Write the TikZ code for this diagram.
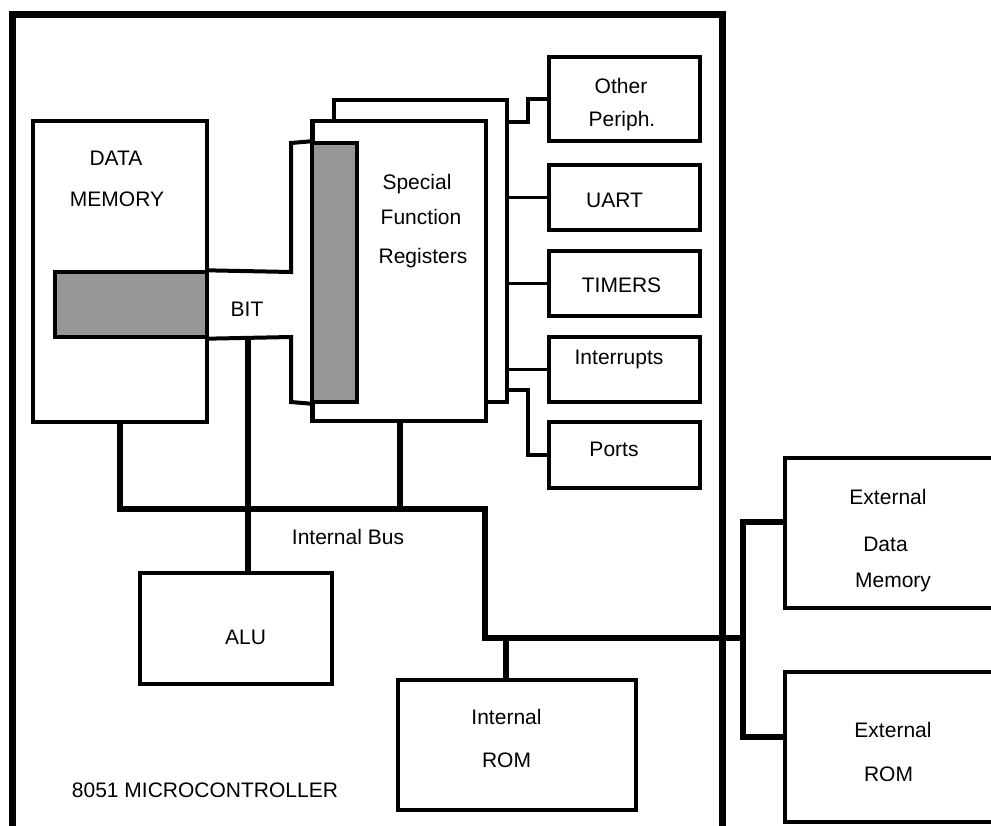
\documentclass[tikz,border=0pt]{standalone}
\usepackage{fontspec}
\setmainfont{Liberation Sans}
\definecolor{bitgray}{RGB}{150,150,150}

\begin{document}
\begin{tikzpicture}[x=1pt, y=-1pt,
    box/.style={draw, line width=3.3pt, fill=white, inner sep=0pt},
    graybox/.style={draw, line width=3.3pt, fill=bitgray, inner sep=0pt},
    txt/.style={inner sep=0pt, text height=15pt, text depth=0pt, font=\fontsize{21}{25}\selectfont},
    wire/.style={line width=3.4pt},
    bus/.style={line width=6pt}]
    \useasboundingbox (0,0) rectangle (991,825);

    % Microcontroller
    \node[draw, line width=7pt, minimum width=710pt, minimum height=836pt] (mcu) at (367,432) {};
    \node[txt] (mcutxt) at (205,790) {8051 MICROCONTROLLER};

    % Data memory
    \node[box, minimum width=174pt, minimum height=301pt] (dm) at (120,271.5) {};
    \node[graybox, minimum width=152pt, minimum height=65pt] (dmbit) at (131,304.5) {};
    \node[txt] (dmtxt1) at (116,157.5) {DATA};
    \node[txt] (dmtxt2) at (117,198.5) {MEMORY};

    % SFR
    \node[box, minimum width=173pt, minimum height=302pt] (sfrback) at (420.5,251) {};
    \node[box, minimum width=173pt, minimum height=300pt] (sfr) at (399.5,271) {};
    \node[graybox, minimum width=45pt, minimum height=259pt] (sfrbit) at (334.5,272.5) {};
    \draw[wire] (sfr.north west) -- (sfr.south west);
    \node[txt] (sfrtxt1) at (417,182) {Special};
    \node[txt] (sfrtxt2) at (421,217) {Function};
    \node[txt] (sfrtxt3) at (423,255.5) {Registers};

    % BIT
    \coordinate (ch1) at (291,272);
    \coordinate (ch2) at (291,143);
    \coordinate (ch3) at (291,337);
    \coordinate (ch4) at (291,402);
    \draw[wire, line width=4pt] (dmbit.north east) -- (ch1) -- (ch2) -- (sfrbit.north west);
    \draw[wire, line width=4pt] (dmbit.south east) -- (ch3) -- (ch4) -- (sfrbit.south west);
    \node[txt] (bittxt) at (247,309) {BIT};

    % Peripherals
    \node[box, minimum width=151pt, minimum height=84pt] (oth) at (624.5,99) {};
    \node[box, minimum width=151pt, minimum height=65pt] (uart) at (624.5,197.5) {};
    \node[box, minimum width=151pt, minimum height=65pt] (timers) at (624.5,283.5) {};
    \node[box, minimum width=151pt, minimum height=65pt] (intr) at (624.5,369.5) {};
    \node[box, minimum width=151pt, minimum height=66pt] (ports) at (624.5,455) {};
    \node[txt] (othtxt1) at (621,86) {Other};
    \node[txt] (othtxt2) at (622,119) {Periph.};
    \node[txt] (uarttxt) at (614.5,200) {UART};
    \node[txt] (timerstxt) at (621.5,285) {TIMERS};
    \node[txt] (intrtxt) at (619,356.5) {Interrupts};
    \node[txt] (portstxt) at (614,449) {Ports};

    \coordinate (ostep) at (528,122);
    \coordinate (pstep) at (528,390);
    \draw[wire] (sfrback.east |- ostep) -- (ostep) |- (oth.west);
    \foreach \p in {uart,timers,intr}
        \draw[wire] (sfrback.east |- \p.west) -- (\p.west);
    \draw[wire] (sfrback.east |- pstep) -- (pstep) |- (ports.west);

    % ALU and internal ROM
    \node[box, minimum width=192pt, minimum height=111pt] (alu) at (236,628.5) {};
    \node[txt] (alutxt) at (245.5,636.5) {ALU};
    \node[box, minimum width=238pt, minimum height=130pt] (irom) at (517,745) {};
    \node[txt] (iromtxt1) at (506.5,716.5) {Internal};
    \node[txt] (iromtxt2) at (506.5,759.5) {ROM};

    % External memories
    \node[box, minimum width=215pt, minimum height=150pt] (extdm) at (892.5,533) {};
    \node[txt] (extdmtxt1) at (888,497) {External};
    \node[txt] (extdmtxt2) at (885.5,543.5) {Data};
    \node[txt] (extdmtxt3) at (893,580) {Memory};
    \node[box, minimum width=215pt, minimum height=150pt] (extrom) at (892.5,747) {};
    \node[txt] (extromtxt1) at (893,730) {External};
    \node[txt] (extromtxt2) at (888.5,774) {ROM};

    % Internal bus
    \coordinate (busr) at (485,509);
    \coordinate (busd) at (485,638);
    \coordinate (extj) at (743,638);
    \coordinate (bitl) at (248,337);
    \coordinate (romtap) at (506,638);
    \coordinate (ext1) at (743,522);
    \coordinate (ext2) at (743,737);
    \draw[bus] (dm.south) |- (busr) -- (busd) -- (extj);
    \draw[bus] (sfr.south) -- (sfr.south |- busr);
    \draw[bus] (bitl) -- (bitl |- alu.north);
    \draw[bus] (romtap) -- (romtap |- irom.north);
    \draw[bus] (extdm.west |- ext1) -- (ext1) -- (ext2) -- (extrom.west |- ext2);
    \node[txt] (bustxt) at (348,536.5) {Internal Bus};
\end{tikzpicture}
\end{document}
